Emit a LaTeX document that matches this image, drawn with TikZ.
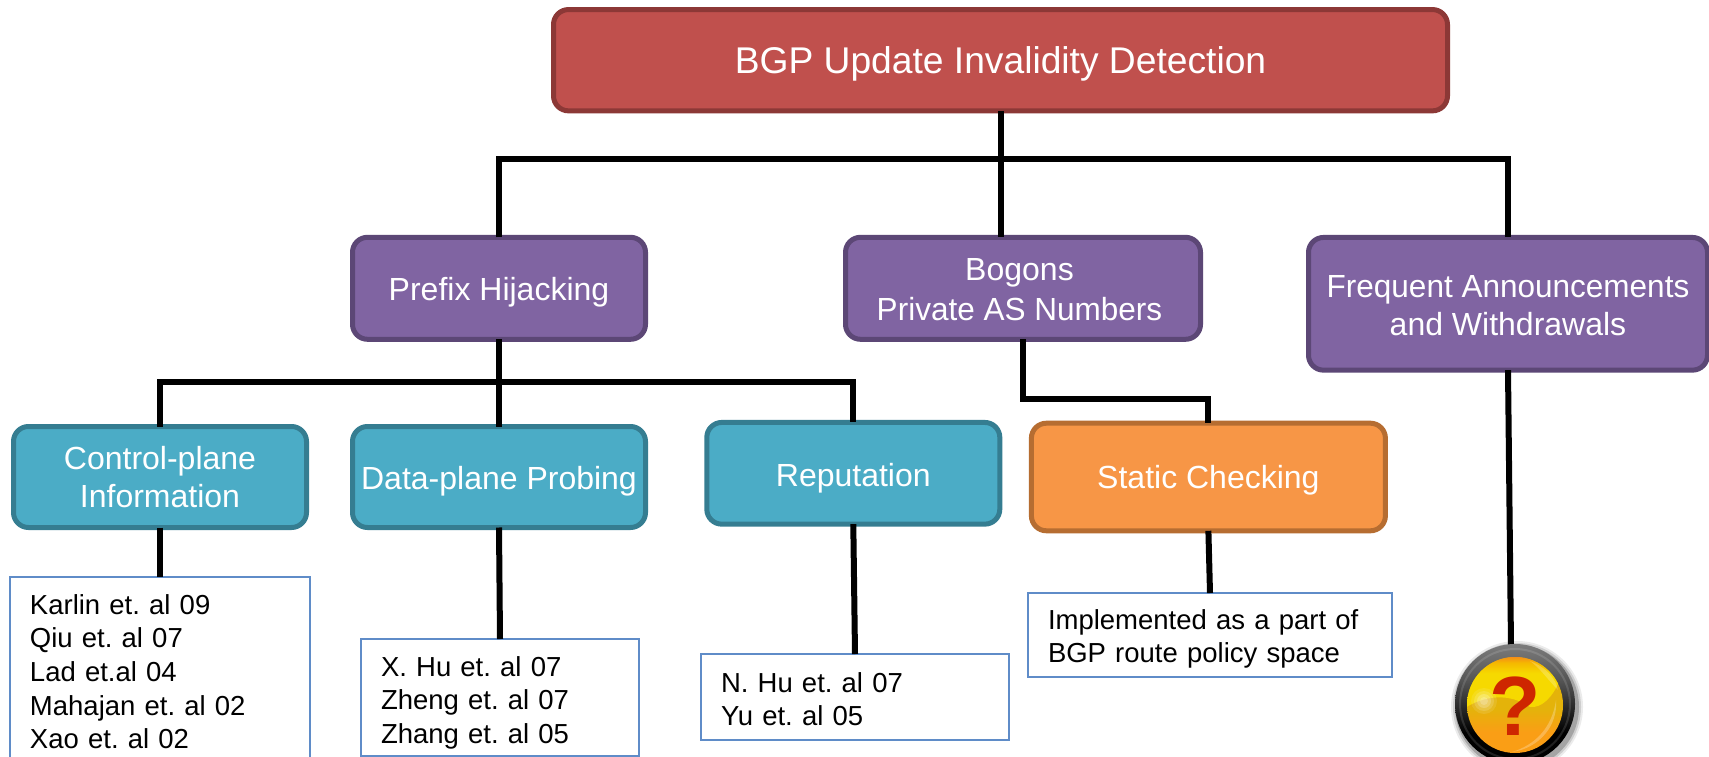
\documentclass[tikz,border=0pt]{standalone}
\usepackage{fontspec}
\setmainfont{Liberation Sans}
\definecolor{redfill}{HTML}{C0504D}
\definecolor{redline}{HTML}{8C3836}
\definecolor{purfill}{HTML}{8064A2}
\definecolor{purline}{HTML}{5C4776}
\definecolor{tealfill}{HTML}{4BACC6}
\definecolor{tealline}{HTML}{357D91}
\definecolor{orfill}{HTML}{F79646}
\definecolor{orline}{HTML}{B66D31}
\definecolor{boxline}{HTML}{5F8CC8}
\definecolor{qcol}{HTML}{CE2600}
\definecolor{dscupper}{HTML}{F6D900}
\definecolor{dscupmid}{HTML}{F5B800}
\definecolor{dsctop}{HTML}{F5861C}
\definecolor{dsclow}{HTML}{E4B30A}
\definecolor{dscbot}{HTML}{FA9E15}
\definecolor{rimtop}{HTML}{7C7C7C}
\definecolor{rimmid}{HTML}{555555}
\definecolor{rimlow}{HTML}{262626}
\newcommand\hgt[1]{\rule{0pt}{#1pt}}
\newcommand\dph[1]{\rule[-#1pt]{0pt}{#1pt}}
\pgfdeclareverticalshading{rimshade}{100bp}{color(0bp)=(black); color(25bp)=(black); color(38bp)=(black); color(48bp)=(rimlow); color(60bp)=(rimmid); color(75bp)=(rimtop); color(100bp)=(rimtop)}
\pgfdeclareverticalshading{lowerdisc}{100bp}{color(0bp)=(dscbot); color(25bp)=(dscbot); color(36bp)=(dscbot); color(48bp)=(dsclow); color(100bp)=(dsclow)}
\pgfdeclareverticalshading{upperdisc}{100bp}{color(0bp)=(dscupper); color(55bp)=(dscupper); color(64bp)=(dscupmid); color(70bp)=(dsctop); color(100bp)=(dsctop)}
\tikzset{
 x=1pt,y=-1pt,
 basebox/.style={rounded corners=15pt,line width=5pt,text=white,align=center,inner sep=0pt,outer sep=0pt,font=\fontsize{32}{38}\selectfont},
 rootbox/.style={basebox,draw=redline,fill=redfill,font=\fontsize{37.2}{44}\selectfont},
 purbox/.style={basebox,draw=purline,fill=purfill},
 tealbox/.style={basebox,draw=tealline,fill=tealfill},
 orbox/.style={basebox,draw=orline,fill=orfill},
 refbox/.style={draw=boxline,line width=2pt,fill=white,anchor=north west,align=left,inner xsep=20pt,inner ysep=0pt,outer sep=0pt,font=\fontsize{27.5}{33.7}\selectfont\frenchspacing},
 conn/.style={line width=6pt,black},
}
\begin{document}
\begin{tikzpicture}
\clip (0,0) rectangle (1709,757);
\fill[white] (0,0) rectangle (1709,757);
\node[rootbox,minimum width=894pt,minimum height=101.3pt] (root) at (1000.5,60.2) {\hgt{37.6}\dph{10}BGP Update Invalidity Detection};
\node[purbox,minimum width=293pt,minimum height=102pt] (prefix) at (499,288.3) {\hgt{35}\dph{10}Prefix Hijacking};
\node[purbox,minimum width=355pt,minimum height=102pt] (bogons) at (1023,288.3) {\hgt{33.4}Bogons\hspace*{7pt}\\[2pt]\scalebox{.985}[1]{Private AS Numbers}\hspace*{7pt}\dph{10}};
\node[purbox,minimum width=399pt,minimum height=132.7pt] (freq) at (1508,303.8) {\hgt{34.4}\scalebox{.985}[1]{Frequent Announcements}\\and Withdrawals\dph{10}};
\node[tealbox,minimum width=293pt,minimum height=101pt] (cp) at (160,477) {\hgt{32}Control-plane\\Information\dph{10}};
\node[tealbox,minimum width=293pt,minimum height=101pt] (dp) at (499,477) {\hgt{34.6}\dph{10}Data-plane Probing};
\node[tealbox,minimum width=293pt,minimum height=101.7pt] (rep) at (853.3,473.3) {\hgt{36.8}\dph{10}Reputation};
\node[orbox,minimum width=354pt,minimum height=107.6pt] (stat) at (1208.4,477) {\hgt{32}\dph{10}Static Checking};
\node[refbox,text width=260pt] (cpb) at (10,577) {\hgt{37}Karlin et. al 09\\Qiu et. al 07\\Lad et.al 04\\Mahajan et. al 02\\Xao et. al 02\dph{13}};
\node[refbox,text width=238pt] (dpb) at (361,639) {\hgt{37}X. Hu et. al 07\\Zheng et. al 07\\Zhang et. al 05\dph{13}};
\node[refbox,text width=268pt] (repb) at (701,654) {\hgt{38}N. Hu et. al 07\\Yu et. al 05\dph{14}};
\node[refbox,text width=324pt] (statb) at (1028,593) {\hgt{36}Implemented as a part of\\BGP route policy space\dph{14}};
\coordinate (icontop) at (1511,646);
\coordinate (trunk) at (1000.5,159);
\coordinate (split) at (499,382);
\coordinate (bend) at (1024,399);
\draw[conn] (root.south) -- (trunk);
\draw[conn] (trunk) -- (root.south |- bogons.north);
\draw[conn] (prefix.north) |- (trunk) -| (freq.north);
\draw[conn] (prefix.south) -- (split);
\draw[conn] (cp.north) |- (split) -| (rep.north);
\draw[conn] (split) -- (dp.north);
\draw[conn] (bogons.south) |- (bend) -| (stat.north);
\draw[conn] (cp.south) -- (cpb.north);
\draw[conn] (dp.south) -- (dpb.north);
\draw[conn] (rep.south) -- (repb.north);
\draw[conn] (stat.south) -- (statb.north);
\draw[conn] (freq.south) -- (icontop);
% question mark icon
\foreach \r/\o in {66/.08,64/.12,62/.2}{\fill[black,opacity=\o] (1517,707) circle (\r);}
\shade[shading=rimshade] (1515,704) circle (60);
\draw[white,opacity=.12,line width=2pt] (1515,704) circle (55);
\begin{scope}
\clip (1515,705) circle (48);
\shade[shading=lowerdisc] (1515,705) circle (48);
\shade[shading=upperdisc] (1465,708) .. controls (1485,695) and (1510,693) .. (1530,707) .. controls (1542,708) and (1552,698) .. (1560,680) -- (1570,650) -- (1460,650) -- cycle;
\fill[white,opacity=.22] (1530,661) .. controls (1548,668) and (1556,680) .. (1558,690) .. controls (1548,680) and (1540,668) .. (1530,661) -- cycle;
\fill[white,opacity=.25] (1556,700) .. controls (1558,725) and (1540,748) .. (1512,752) .. controls (1535,745) and (1552,728) .. (1556,700) -- cycle;
\foreach \r/\o in {13/.1,10/.15,7/.2,4/.2}{\fill[white,opacity=\o] (1484,701) circle (\r);}
\end{scope}
\node[font=\bfseries\fontsize{84}{84}\selectfont,text=qcol,inner sep=0pt,anchor=base] (qm) at (1515.5,735) {?};
\end{tikzpicture}
\end{document}
